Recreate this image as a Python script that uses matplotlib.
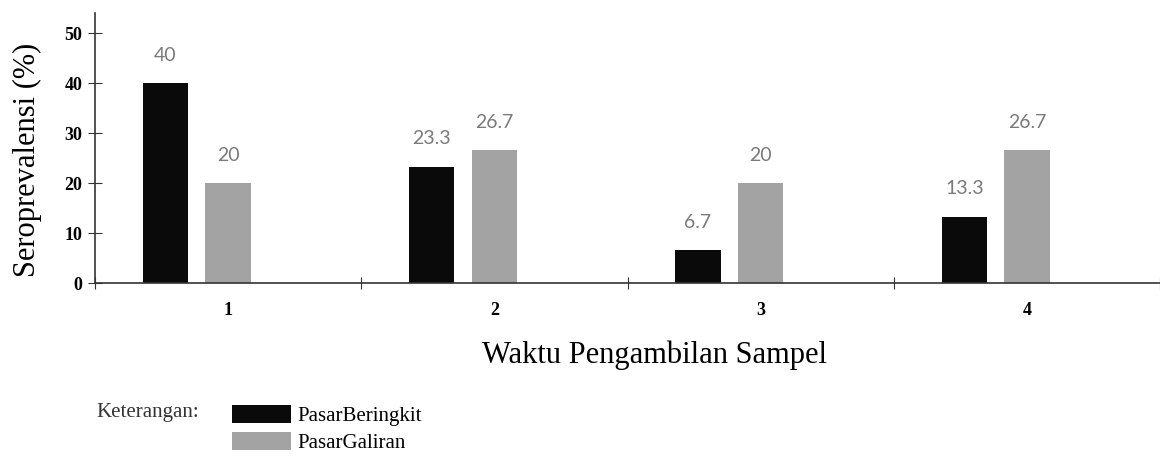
import numpy as np
import matplotlib.pyplot as plt

# data
waktu = ["1", "2", "3", "4"]
beringkit = [40, 23.3, 6.7, 13.3]
galiran = [20, 26.7, 20, 26.7]
label_beringkit = ["40", "23.3", "6.7", "13.3"]
label_galiran = ["20", "26.7", "20", "26.7"]

serif = "Liberation Serif"
fig = plt.figure(figsize=(11.6, 4.58), dpi=100)
ax = fig.add_axes([95/1160, 175/458, 1065/1160, 270/458])

x = np.arange(1, len(waktu) + 1)
w = 0.17
b1 = ax.bar(x - 0.235, beringkit, w, color="#0a0a0a", label="PasarBeringkit")
b2 = ax.bar(x, galiran, w, color="#a3a3a3", label="PasarGaliran")

for bars, labs in ((b1, label_beringkit), (b2, label_galiran)):
    for r, t in zip(bars, labs):
        ax.text(r.get_x() + r.get_width()/2, r.get_height() + 3.8, t,
                ha="center", va="bottom", fontsize=14, color="#7a7a7a", family="Lato")

ax.set_xlim(0.5, 0.5 + 1065/268)
ax.set_ylim(0, 54)
ax.set_yticks([0, 10, 20, 30, 40, 50])
ax.set_xticks(np.arange(0.5, 4.6, 1.0))
ax.set_xticklabels([])
ax.set_xticks(x, minor=True)
ax.set_xticklabels(waktu, minor=True)
ax.tick_params(axis="x", which="minor", length=0, pad=14)
ax.tick_params(axis="x", which="major", direction="inout", length=8, color="#333333")
ax.tick_params(axis="y", direction="inout", length=10, color="#333333", pad=4)
for lab in ax.get_yticklabels() + ax.get_xticklabels(minor=True):
    lab.set_family(serif)
    lab.set_fontweight("bold")
    lab.set_fontsize(13)

ax.spines["top"].set_visible(False)
ax.spines["right"].set_visible(False)
ax.spines["left"].set_color("#333333")
ax.spines["bottom"].set_color("#333333")
ax.spines["left"].set_linewidth(1.2)
ax.spines["bottom"].set_linewidth(1.2)

ax.set_ylabel("Seroprevalensi (%)", family=serif, fontsize=22)
ax.yaxis.set_label_coords((42 - 95)/1065, 0.455)
ax.set_xlabel("Waktu Pengambilan Sampel", family=serif, fontsize=22)
ax.xaxis.set_label_coords((655 - 95)/1065, -57/270)

fig.text(96/1160, 1 - 412/458, "Keterangan:", family=serif, fontsize=15,
         va="center", ha="left", color="#333333")
fig.legend(handles=[b1, b2], loc="upper left", bbox_to_anchor=(224/1160, 1 - 397/458),
           frameon=False, prop={"family": serif, "size": 15}, handlelength=2.8,
           handleheight=0.9, handletextpad=0.3, labelspacing=0.3, borderaxespad=0)

fig.savefig("out.png", dpi=100)
